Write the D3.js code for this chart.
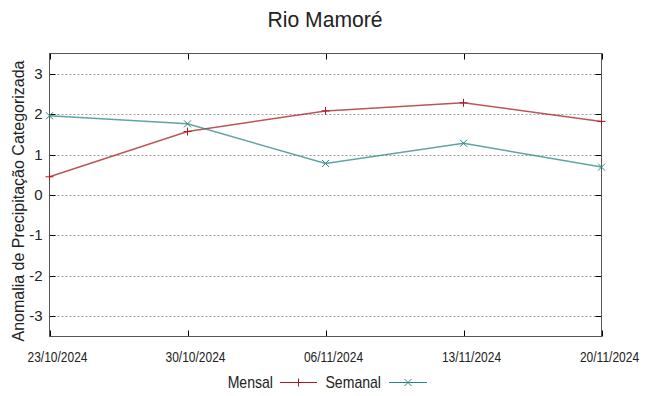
<!DOCTYPE html>
<html>
<head>
<meta charset="utf-8">
<script src="https://cdn.jsdelivr.net/npm/d3@7"></script>
<style>
  body { margin: 0; background: #fff; }
  text { font-family: "Liberation Sans", Arial, sans-serif; fill: #222; }
</style>
</head>
<body>
<div id="chart"></div>
<script>
var dates = ["23/10/2024", "30/10/2024", "06/11/2024", "13/11/2024", "20/11/2024"];
var mensal = [0.45, 1.57, 2.08, 2.28, 1.82];
var semanal = [1.96, 1.76, 0.78, 1.28, 0.69];
var yTicks = [-3, -2, -1, 0, 1, 2, 3];

var W = 649, H = 396;
var pLeft = 49.5, pRight = 601.5, pTop = 53.5, pBottom = 336.5;

var svg = d3.select("#chart").append("svg")
    .attr("width", W)
    .attr("height", H);

var parse = d3.timeParse("%d/%m/%Y");
var x = d3.scaleTime()
    .domain([parse(dates[0]), parse(dates[dates.length - 1])])
    .range([pLeft, pRight]);
var y = d3.scaleLinear()
    .domain([-3.5, 3.5])
    .range([pBottom, pTop]);

// grid
svg.append("g").selectAll("line")
    .data(yTicks)
    .enter().append("line")
    .attr("x1", pLeft).attr("x2", pRight)
    .attr("y1", function (d) { return Math.round(y(d)) + 0.5; })
    .attr("y2", function (d) { return Math.round(y(d)) + 0.5; })
    .style("stroke", "#a0a0a0")
    .style("stroke-width", 1)
    .style("stroke-dasharray", "2,2");

// ticks (mirrored, inward)
var tickG = svg.append("g").style("stroke", "#000").style("stroke-width", 1);
yTicks.forEach(function (d) {
    var yy = Math.round(y(d)) + 0.5;
    tickG.append("line").attr("x1", pLeft).attr("x2", pLeft + 6).attr("y1", yy).attr("y2", yy);
    tickG.append("line").attr("x1", pRight - 6).attr("x2", pRight).attr("y1", yy).attr("y2", yy);
});
dates.forEach(function (d) {
    var xx = Math.round(x(parse(d))) + 0.5;
    tickG.append("line").attr("x1", xx).attr("x2", xx).attr("y1", pBottom).attr("y2", pBottom - 6);
    tickG.append("line").attr("x1", xx).attr("x2", xx).attr("y1", pTop).attr("y2", pTop + 6);
});

// border
svg.append("rect")
    .attr("x", pLeft).attr("y", pTop)
    .attr("width", pRight - pLeft).attr("height", pBottom - pTop)
    .style("fill", "none")
    .style("stroke", "#555")
    .style("stroke-width", 1);

// tick labels
svg.append("g").selectAll("text")
    .data(yTicks)
    .enter().append("text")
    .attr("x", pLeft - 7)
    .attr("y", function (d) { return y(d) + 5; })
    .attr("text-anchor", "end")
    .style("font-size", "15px")
    .text(function (d) { return d; });

svg.append("g").selectAll("text")
    .data(dates)
    .enter().append("text")
    .attr("transform", function (d) { return "translate(" + (x(parse(d)) + 8) + ",361.5) scale(0.8,1)"; })
    .attr("text-anchor", "middle")
    .style("font-size", "15px")
    .text(function (d) { return d; });

// title and axis label
svg.append("text")
    .attr("transform", "translate(325,26.5) scale(0.96,1)")
    .attr("text-anchor", "middle")
    .style("font-size", "22px")
    .text("Rio Mamoré");

svg.append("text")
    .attr("transform", "translate(24,201) rotate(-90)")
    .attr("text-anchor", "middle")
    .style("font-size", "16px")
    .text("Anomalia de Precipitação Categorizada");

// series
var line = d3.line()
    .x(function (d, i) { return x(parse(dates[i])); })
    .y(function (d) { return y(d); });

function plus(g, cx, cy, color) {
    g.append("path")
        .attr("d", "M" + (cx - 4) + "," + cy + "H" + (cx + 4) + "M" + cx + "," + (cy - 4) + "V" + (cy + 4))
        .style("stroke", color).style("stroke-width", 1).style("fill", "none");
}
function cross(g, cx, cy, color) {
    g.append("path")
        .attr("d", "M" + (cx - 3.5) + "," + (cy - 3.5) + "L" + (cx + 3.5) + "," + (cy + 3.5) +
            "M" + (cx - 3.5) + "," + (cy + 3.5) + "L" + (cx + 3.5) + "," + (cy - 3.5))
        .style("stroke", color).style("stroke-width", 1).style("fill", "none");
}

var series = [
    { name: "Mensal", values: mensal, color: "#a51c20", mark: plus },
    { name: "Semanal", values: semanal, color: "#2a8584", mark: cross }
];

series.forEach(function (s) {
    var g = svg.append("g");
    g.append("path")
        .attr("d", line(s.values))
        .style("fill", "none")
        .style("stroke", s.color)
        .style("stroke-opacity", 0.75)
        .style("stroke-width", 1.5);
    s.values.forEach(function (v, i) {
        s.mark(g, x(parse(dates[i])), y(v), s.color);
    });
});

// legend
var legend = [
    { label: "Mensal", tx: 273, lx1: 280, lx2: 317 },
    { label: "Semanal", tx: 381, lx1: 389, lx2: 427 }
];
legend.forEach(function (l, i) {
    var s = series[i];
    svg.append("text")
        .attr("transform", "translate(" + l.tx + ",387.5) scale(0.88,1)")
        .attr("text-anchor", "end")
        .style("font-size", "16px")
        .text(l.label);
    svg.append("line")
        .attr("x1", l.lx1).attr("x2", l.lx2)
        .attr("y1", 382.5).attr("y2", 382.5)
        .style("stroke", s.color)
        .style("stroke-width", 1.2);
    s.mark(svg, (l.lx1 + l.lx2) / 2, 382.5, s.color);
});
</script>
</body>
</html>
